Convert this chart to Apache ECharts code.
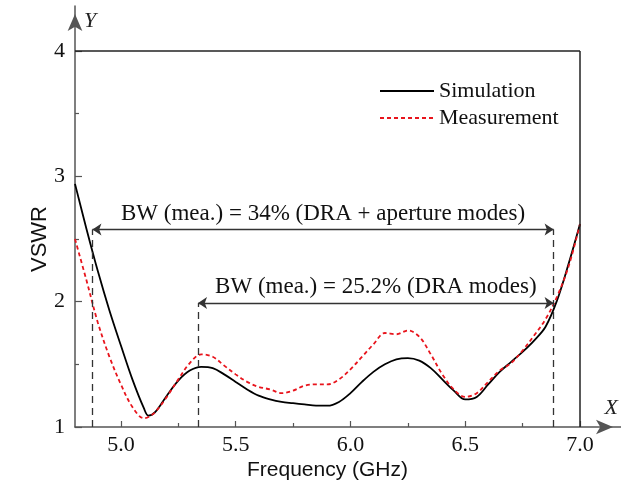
<!DOCTYPE html>
<html>
<head>
<meta charset="utf-8">
<title>VSWR versus frequency</title>
<script src="https://cdn.jsdelivr.net/npm/echarts@6/dist/echarts.min.js"></script>
<style>
  html, body { margin: 0; padding: 0; background: #fff; }
  #chart { width: 621px; height: 488px; }
</style>
</head>
<body>
<div id="chart"></div>
<script>
// Frequency samples (GHz)
const freq = [
  4.80, 4.85, 4.90, 4.95, 5.00, 5.05, 5.10, 5.12, 5.15, 5.20,
  5.25, 5.30, 5.35, 5.40, 5.45, 5.50, 5.55, 5.60, 5.65, 5.70,
  5.75, 5.80, 5.85, 5.90, 5.95, 6.00, 6.05, 6.10, 6.15, 6.20,
  6.25, 6.30, 6.35, 6.40, 6.45, 6.50, 6.55, 6.60, 6.65, 6.70,
  6.75, 6.80, 6.85, 6.90, 6.95, 7.00
];

// Simulated VSWR
const simulation = [
  2.94, 2.58, 2.24, 1.93, 1.65, 1.38, 1.15, 1.09, 1.12, 1.25,
  1.37, 1.45, 1.48, 1.47, 1.42, 1.36, 1.30, 1.25, 1.22, 1.20,
  1.19, 1.18, 1.17, 1.17, 1.20, 1.27, 1.36, 1.44, 1.50, 1.54,
  1.55, 1.53, 1.47, 1.38, 1.29, 1.22, 1.24, 1.34, 1.44, 1.52,
  1.60, 1.69, 1.80, 2.01, 2.30, 2.62
];

// Measured VSWR
const measurement = [
  2.50, 2.17, 1.83, 1.56, 1.34, 1.16, 1.07, 1.08, 1.12, 1.24,
  1.38, 1.51, 1.58, 1.56, 1.49, 1.42, 1.36, 1.32, 1.30, 1.27,
  1.29, 1.33, 1.34, 1.34, 1.38, 1.46, 1.56, 1.66, 1.75, 1.74,
  1.77, 1.72, 1.58, 1.42, 1.30, 1.24, 1.27, 1.36, 1.45, 1.51,
  1.61, 1.73, 1.86, 2.04, 2.28, 2.62
];

// Axis ticks
const xLabels = [5.0, 5.5, 6.0, 6.5, 7.0];
const xMinorTicks = [5.25, 5.75, 6.25, 6.75];
const yLabels = [1, 2, 3, 4];
const yMinorTicks = [1.5, 2.5, 3.5];

// Bandwidth annotations: [start GHz, end GHz], arrow level (VSWR)
const bwWide = [4.876, 6.885];
const bwWideLevel = 2.575;
const bwWideText = 'BW (mea.) = 34% (DRA + aperture modes)';
const bwNarrow = [5.336, 6.885];
const bwNarrowLevel = 1.99;
const bwNarrowText = 'BW (mea.) = 25.2% (DRA modes)';

const SERIF = '"Liberation Serif", "Times New Roman", serif';
const SANS = '"Liberation Sans", Arial, sans-serif';
const AXIS_COLOR = '#555';

const pair = (x, y) => freq.map((f, i) => [f, y[i]]);

const chart = echarts.init(document.getElementById('chart'), null, { renderer: 'canvas' });

const plotGrid = { left: 75, top: 51, width: 505, height: 376 };

const dashEdge = { color: '#333', width: 1.3, type: [7, 5] };
const bwLabel = (text) => ({
  show: true, position: 'insideMiddleTop', distance: 4, formatter: text,
  fontFamily: SERIF, fontSize: 23, color: '#111'
});

chart.setOption({
  animation: false,
  backgroundColor: '#fff',
  grid: [
    plotGrid,
    // wider grid carrying the arrow-tipped axis lines
    { left: 75, top: 6, right: 0, bottom: 61 }
  ],
  legend: {
    data: ['Simulation', 'Measurement'],
    orient: 'vertical',
    left: 374,
    top: 75,
    itemWidth: 54,
    itemHeight: 14,
    itemGap: 5,
    itemStyle: { opacity: 0 },
    textStyle: { fontFamily: SERIF, fontSize: 22, color: '#111' }
  },
  xAxis: [
    {
      type: 'value', gridIndex: 0, min: 4.8, max: 7.0, position: 'bottom',
      name: 'Frequency (GHz)', nameLocation: 'middle', nameGap: 33, nameMoveOverlap: false,
      nameTextStyle: { fontFamily: SANS, fontSize: 21, color: '#111' },
      axisLine: { show: false },
      axisTick: { show: true, inside: true, length: 6, customValues: xLabels,
        lineStyle: { color: AXIS_COLOR, width: 1.2 } },
      axisLabel: { show: true, customValues: xLabels, margin: 7,
        fontFamily: SERIF, fontSize: 22, color: '#111',
        formatter: v => v.toFixed(1) },
      splitLine: { show: false }
    },
    {
      type: 'value', gridIndex: 0, min: 4.8, max: 7.0, position: 'bottom',
      axisLine: { show: false, onZero: false },
      axisTick: { show: true, inside: true, length: 4, customValues: xMinorTicks,
        lineStyle: { color: AXIS_COLOR, width: 1.2 } },
      axisLabel: { show: false },
      splitLine: { show: false }
    },
    {
      type: 'value', gridIndex: 1, min: 0, max: 1, position: 'bottom',
      name: 'X', nameLocation: 'end', nameGap: -3,
      nameTextStyle: { fontFamily: SERIF, fontStyle: 'italic', fontSize: 22, color: '#222',
        align: 'right', verticalAlign: 'bottom', padding: [0, 0, 8, 0] },
      axisLine: { show: true, onZero: false, symbol: ['none', 'arrow'], symbolSize: [11, 17],
        symbolOffset: [0, -8], lineStyle: { color: AXIS_COLOR, width: 1.5 } },
      axisTick: { show: false },
      axisLabel: { show: false },
      splitLine: { show: false }
    }
  ],
  yAxis: [
    {
      type: 'value', gridIndex: 0, min: 1, max: 4, position: 'left',
      name: 'VSWR', nameLocation: 'middle', nameGap: 24, nameRotate: 90, nameMoveOverlap: false,
      nameTextStyle: { fontFamily: SANS, fontSize: 22, color: '#111' },
      axisLine: { show: false },
      axisTick: { show: true, inside: true, length: 7, customValues: yLabels,
        lineStyle: { color: AXIS_COLOR, width: 1.2 } },
      axisLabel: { show: true, customValues: yLabels, margin: 10,
        fontFamily: SERIF, fontSize: 22, color: '#111',
        formatter: v => String(Math.round(v)) },
      splitLine: { show: false }
    },
    {
      type: 'value', gridIndex: 0, min: 1, max: 4, position: 'left',
      axisLine: { show: false, onZero: false },
      axisTick: { show: true, inside: true, length: 4, customValues: yMinorTicks,
        lineStyle: { color: AXIS_COLOR, width: 1.2 } },
      axisLabel: { show: false },
      splitLine: { show: false }
    },
    {
      type: 'value', gridIndex: 1, min: 0, max: 1, position: 'left',
      name: 'Y', nameLocation: 'end', nameGap: -4,
      nameTextStyle: { fontFamily: SERIF, fontStyle: 'italic', fontSize: 22, color: '#222',
        align: 'left', verticalAlign: 'top', padding: [0, 0, 0, 9] },
      axisLine: { show: true, onZero: false, symbol: ['none', 'arrow'], symbolSize: [11, 17],
        symbolOffset: [0, -8], lineStyle: { color: AXIS_COLOR, width: 1.5 } },
      axisTick: { show: false },
      axisLabel: { show: false },
      splitLine: { show: false }
    }
  ],
  series: [
    {
      name: 'Simulation',
      type: 'line',
      xAxisIndex: 0, yAxisIndex: 0,
      data: pair(freq, simulation),
      symbol: 'none',
      smooth: 0.35,
      lineStyle: { color: '#000', width: 1.8 },
      itemStyle: { color: '#000' },
      z: 3
    },
    {
      name: 'Measurement',
      type: 'line',
      xAxisIndex: 0, yAxisIndex: 0,
      data: pair(freq, measurement),
      symbol: 'none',
      smooth: 0.35,
      lineStyle: { color: '#e8141c', width: 1.8, type: [4, 3] },
      itemStyle: { color: '#e8141c' },
      z: 4
    },
    {
      // plot frame and bandwidth annotations
      name: 'annotations',
      type: 'line',
      xAxisIndex: 0, yAxisIndex: 0,
      data: [],
      silent: true,
      markLine: {
        silent: true,
        animation: false,
        symbol: ['none', 'none'],
        label: { show: false },
        emphasis: { disabled: true },
        data: [
          // frame top and right edges
          [{ coord: [4.8, 4], lineStyle: { color: '#222', width: 1.5, type: 'solid' } }, { coord: [7.0, 4] }],
          [{ coord: [7.0, 1], lineStyle: { color: '#222', width: 1.5, type: 'solid' } }, { coord: [7.0, 4] }],
          // band edges
          [{ coord: [bwWide[0], 1], lineStyle: dashEdge }, { coord: [bwWide[0], bwWideLevel] }],
          [{ coord: [bwNarrow[0], 1], lineStyle: dashEdge }, { coord: [bwNarrow[0], bwNarrowLevel] }],
          [{ coord: [bwWide[1], 1], lineStyle: dashEdge }, { coord: [bwWide[1], bwWideLevel] }],
          // bandwidth arrows
          [{ coord: [bwWide[0], bwWideLevel], symbol: 'arrow', symbolSize: 9,
             lineStyle: { color: '#333', width: 1.3, type: 'solid' }, label: bwLabel(bwWideText) },
           { coord: [bwWide[1], bwWideLevel], symbol: 'arrow', symbolSize: 9 }],
          [{ coord: [bwNarrow[0], bwNarrowLevel], symbol: 'arrow', symbolSize: 9,
             lineStyle: { color: '#333', width: 1.3, type: 'solid' }, label: bwLabel(bwNarrowText) },
           { coord: [bwNarrow[1], bwNarrowLevel], symbol: 'arrow', symbolSize: 9 }]
        ]
      }
    }
  ]
});
</script>
</body>
</html>
